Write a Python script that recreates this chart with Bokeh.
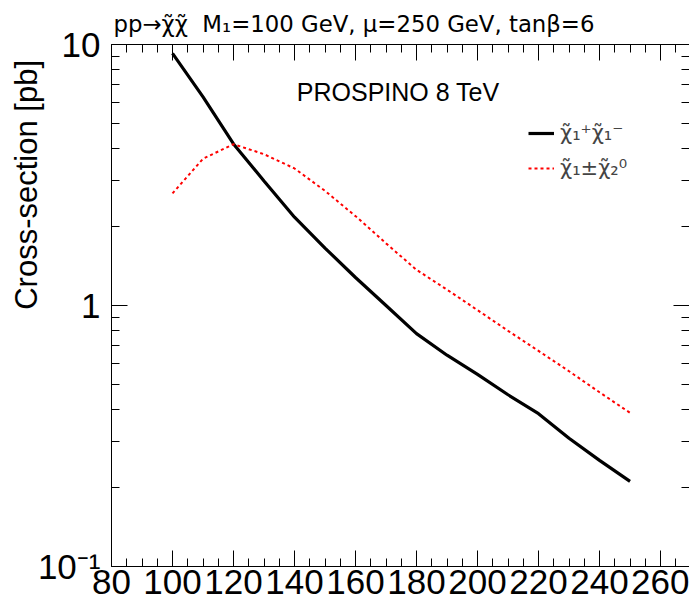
import math
from bokeh.plotting import figure
from bokeh.models import (FixedTicker, LinearAxis, LogAxis, Range1d, Label,
                          Legend, LegendItem)
from bokeh.embed import file_html
from bokeh.resources import INLINE

# ---------------- data ----------------
mass = [100, 110, 120, 130, 140, 150, 160, 170, 180, 190, 200, 210, 220, 230, 240, 250]
xsec_c1c1 = [9.25, 6.3, 4.16, 3.0, 2.18, 1.66, 1.28, 1.0, 0.78, 0.645, 0.545, 0.455,
             0.385, 0.31, 0.255, 0.212]
xsec_c1n2 = [2.69, 3.65, 4.15, 3.8, 3.35, 2.75, 2.2, 1.73, 1.37, 1.15, 0.96, 0.8,
             0.67, 0.56, 0.465, 0.388]

x_major = [80, 100, 120, 140, 160, 180, 200, 220, 240, 260]
x_minor = list(range(80, 271, 5))
y_major = [0.1, 1, 10]
y_labels = {0.1: "10\u207b\u00b9", 1: "1", 10: "10"}
y_minor = [0.2, 0.3, 0.4, 0.5, 0.6, 0.7, 0.8, 0.9, 2, 3, 4, 5, 6, 7, 8, 9]

title_text = "pp\u2192\u03c7\u0303\u03c7\u0303\u00a0\u00a0M\u2081=100 GeV, \u03bc=250 GeV, tan\u03b2=6"
y_title = "Cross-section [pb]"
label_c1c1 = "\u03c7\u0303\u2081\u207a\u03c7\u0303\u2081\u207b"
label_c1n2 = "\u03c7\u0303\u2081\u00b1\u03c7\u0303\u2082\u2070"
FONT = "Liberation Sans"
SYM_FONT = "DejaVu Sans"

# ---------------- figure ----------------
p = figure(width=689, height=610, y_axis_type="log",
           x_range=Range1d(80, 269.5), y_range=Range1d(0.1, 10),
           output_backend="svg", toolbar_location=None,
           min_border_left=111, min_border_right=0, min_border_top=44,
           min_border_bottom=44)
p.outline_line_color = None
p.grid.visible = False
p.background_fill_color = "white"
p.border_fill_color = "white"

p.title.text = title_text
p.title.text_font = SYM_FONT
p.title.text_font_size = "22.8px"
p.title.text_font_style = "normal"
p.title.text_color = "black"
p.title.align = "left"
p.title.offset = 2
p.title.standoff = 15

xt = FixedTicker(ticks=x_major, minor_ticks=x_minor)
yt = FixedTicker(ticks=y_major, minor_ticks=y_minor)

def style(ax):
    ax.axis_line_color = "black"
    ax.axis_line_width = 1
    ax.major_tick_in = 16
    ax.major_tick_out = 0
    ax.minor_tick_in = 8
    ax.minor_tick_out = 0
    ax.major_tick_line_color = "black"
    ax.minor_tick_line_color = "black"
    ax.major_label_text_font = FONT
    ax.major_label_text_font_size = "35px"
    ax.major_label_text_color = "black"

bx = p.xaxis[0]
bx.ticker = xt
style(bx)
bx.major_label_standoff = 3

ly = p.yaxis[0]
ly.ticker = yt
ly.major_label_overrides = y_labels
style(ly)
ly.major_label_standoff = 11
# leading no-break spaces push the centred title towards the top (ROOT style)
ly.axis_label = "\u00a0" * 28 + y_title
ly.axis_label_text_font = FONT
ly.axis_label_text_font_size = "31px"
ly.axis_label_text_font_style = "normal"
ly.axis_label_text_color = "black"
ly.axis_label_standoff = -9

# mirrored tick axes (no labels)
tx = LinearAxis(ticker=xt)
style(tx)
tx.major_label_overrides = {t: "" for t in x_major}
tx.major_label_text_font_size = "1px"
tx.major_label_standoff = 0
p.add_layout(tx, "above")

ry = LogAxis(ticker=yt)
style(ry)
ry.major_label_overrides = {t: "" for t in y_major}
ry.major_label_text_font_size = "1px"
ry.major_label_standoff = 0
ry.axis_line_color = None
p.add_layout(ry, "right")

# ---------------- lines ----------------
r1 = p.line(mass, xsec_c1c1, line_color="black", line_width=3.2)
r2 = p.line(mass, xsec_c1n2, line_color="#ff0000", line_width=2, line_dash="3 3")

legend = Legend(items=[LegendItem(label=label_c1c1, renderers=[r1]),
                       LegendItem(label=label_c1n2, renderers=[r2])],
                location=(417, 383), margin=0, padding=4,
                background_fill_alpha=0, border_line_color=None,
                label_text_font=SYM_FONT, label_text_font_size="21px",
                glyph_width=26, glyph_height=30, label_height=30,
                label_standoff=6, spacing=5)
p.add_layout(legend, "center")

p.add_layout(Label(x=174, y=6.6, text="PROSPINO 8 TeV", text_font=FONT,
                   text_font_size="25px", text_align="center",
                   text_baseline="middle", text_color="black"))

open("out.html", "w").write(file_html(p, INLINE))
